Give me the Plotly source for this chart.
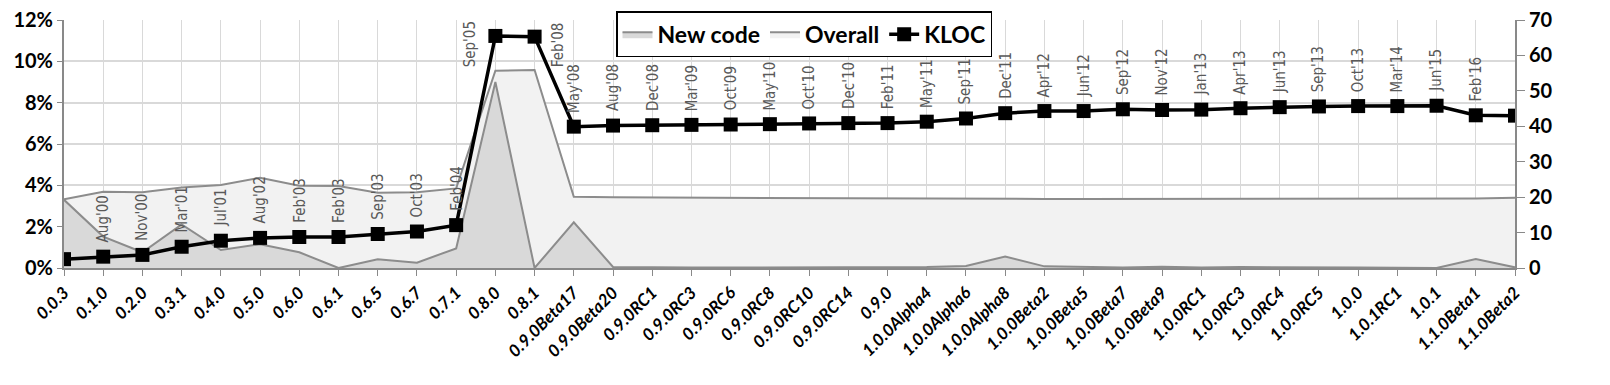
import plotly.graph_objects as go

versions = ['0.0.3', '0.1.0', '0.2.0', '0.3.1', '0.4.0', '0.5.0', '0.6.0', '0.6.1', '0.6.5', '0.6.7',
            '0.7.1', '0.8.0', '0.8.1', '0.9.0Beta17', '0.9.0Beta20', '0.9.0RC1', '0.9.0RC3', '0.9.0RC6',
            '0.9.0RC8', '0.9.0RC10', '0.9.0RC14', '0.9.0', '1.0.0Alpha4', '1.0.0Alpha6', '1.0.0Alpha8',
            '1.0.0Beta2', '1.0.0Beta5', '1.0.0Beta7', '1.0.0Beta9', '1.0.0RC1', '1.0.0RC3', '1.0.0RC4',
            '1.0.0RC5', '1.0.0', '1.0.1RC1', '1.0.1', '1.1.0Beta1', '1.1.0Beta2']

release_dates = ['', "Aug'00", "Nov'00", "Mar'01", "Jul'01", "Aug'02", "Feb'03", "Feb'03", "Sep'03", "Oct'03",
                 "Feb'04", "Sep'05", "Feb'08", "May'08", "Aug'08", "Dec'08", "Mar'09", "Oct'09",
                 "May'10", "Oct'10", "Dec'10", "Feb'11", "May'11", "Sep'11", "Dec'11",
                 "Apr'12", "Jun'12", "Sep'12", "Nov'12", "Jan'13", "Apr'13", "Jun'13",
                 "Sep'13", "Oct'13", "Mar'14", "Jun'15", "Feb'16", '']

# percentages
new_code = [3.30, 1.52, 0.76, 2.11, 0.87, 1.15, 0.76, 0.00, 0.42, 0.26,
            0.95, 9.00, 0.00, 2.21, 0.05, 0.02, 0.02, 0.02,
            0.02, 0.02, 0.02, 0.02, 0.05, 0.10, 0.55,
            0.08, 0.05, 0.03, 0.06, 0.02, 0.05, 0.03,
            0.02, 0.02, 0.01, 0.00, 0.44, 0.03]

overall = [3.32, 3.69, 3.66, 3.90, 4.02, 4.37, 3.98, 3.97, 3.64, 3.66,
           3.85, 9.55, 9.58, 3.45, 3.42, 3.41, 3.40, 3.40,
           3.40, 3.39, 3.39, 3.38, 3.37, 3.36, 3.32,
           3.34, 3.34, 3.34, 3.34, 3.34, 3.34, 3.34,
           3.33, 3.33, 3.33, 3.33, 3.36, 3.40]

kloc = [2.5, 3.2, 3.7, 6.0, 7.7, 8.5, 8.75, 8.75, 9.6, 10.3,
        12.1, 65.5, 65.3, 39.9, 40.2, 40.3, 40.4, 40.5,
        40.6, 40.8, 40.9, 40.9, 41.3, 42.2, 43.7,
        44.3, 44.3, 44.8, 44.6, 44.7, 45.1, 45.4,
        45.6, 45.7, 45.7, 45.8, 43.1, 43.0]

AXIS_GRAY = '#898989'
GRID = '#d9d9d9'
LABEL_FONT = 'Lato, Liberation Sans, sans-serif'

fig = go.Figure()

fig.add_trace(go.Scatter(
    x=versions, y=[v / 100 for v in overall], name='Overall', mode='lines',
    fill='tozeroy', fillcolor='#f2f2f2', line=dict(color='#8c8c8c', width=2),
    legendrank=2
))
fig.add_trace(go.Scatter(
    x=versions, y=[v / 100 for v in new_code], name='New code', mode='lines',
    fill='tozeroy', fillcolor='#d9d9d9', line=dict(color='#8c8c8c', width=2),
    legendrank=1
))
fig.add_trace(go.Scatter(
    x=versions, y=kloc, name='KLOC', mode='lines+markers', yaxis='y2',
    line=dict(color='black', width=3.5),
    marker=dict(symbol='square', size=14, color='black'),
    legendrank=3
))

# release date labels above the KLOC points
for ver, date, val in zip(versions, release_dates, kloc):
    if not date:
        continue
    ann = dict(x=ver, y=val, yref='y2', text=date, showarrow=False, textangle=-90,
               font=dict(family='DejaVu Sans Condensed, Liberation Sans Narrow, sans-serif',
                         size=15, color='#595959'),
               yanchor='bottom', xanchor='center', yshift=12)
    if date == "Sep'05":
        ann.update(xanchor='right', yanchor='middle', yshift=-8, xshift=-14)
    elif date == "Feb'08":
        ann.update(xanchor='left', yanchor='middle', yshift=-8, xshift=12)
    fig.add_annotation(**ann)

# page body has an 8px margin, so the figure is sized to fit inside the window
fig.update_layout(
    width=1594, height=369,
    margin=dict(l=56, r=87, t=12, b=109, autoexpand=False),
    paper_bgcolor='white', plot_bgcolor='white',
    font=dict(family=LABEL_FONT, color='black'),
    legend=dict(
        orientation='h', x=0.51, xanchor='center', y=1.035, yanchor='top',
        bgcolor='white', bordercolor='black', borderwidth=1.5,
        font=dict(size=23, family=LABEL_FONT, weight='bold'),
        itemwidth=30, tracegroupgap=0
    ),
    xaxis=dict(
        type='category', range=[0, len(versions) - 1],
        showgrid=True, gridcolor=GRID, gridwidth=1,
        showline=True, linecolor=AXIS_GRAY, linewidth=2,
        ticks='outside', ticklen=6, tickcolor=AXIS_GRAY,
        tickangle=-45,
        tickfont=dict(size=17, family=LABEL_FONT, weight='bold', style='italic'),
    ),
    yaxis=dict(
        range=[0, 0.12], dtick=0.02, tickformat='.0%',
        showgrid=True, gridcolor=GRID, gridwidth=1.5,
        showline=True, linecolor=AXIS_GRAY, linewidth=2,
        ticks='outside', ticklen=5, tickcolor=AXIS_GRAY,
        tickfont=dict(size=20, family=LABEL_FONT, weight='bold'),
        ticklabeloverflow='allow',
        zeroline=False,
    ),
    yaxis2=dict(
        overlaying='y', side='right', range=[0, 70], dtick=10,
        showgrid=False, showline=True, linecolor=AXIS_GRAY, linewidth=2,
        ticks='outside', ticklen=8, tickcolor=AXIS_GRAY,
        tickfont=dict(size=20, family=LABEL_FONT, weight='bold'),
        ticklabeloverflow='allow',
        zeroline=False,
    ),
)

fig.write_html("out.html")
